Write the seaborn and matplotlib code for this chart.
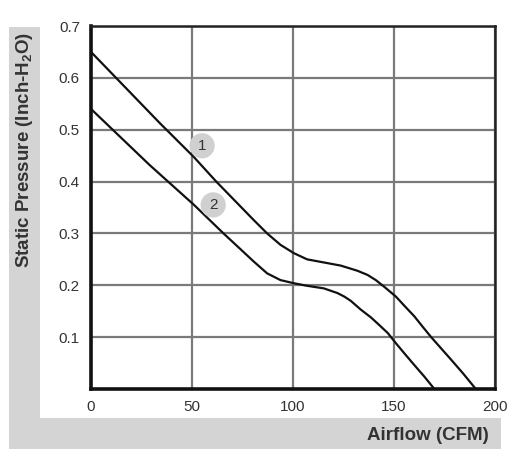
import matplotlib
matplotlib.use("Agg")
import matplotlib.pyplot as plt
import seaborn as sns
import pandas as pd
from matplotlib.patches import Rectangle

# Data
curve1_x = [0, 34, 51, 62, 74, 80.5, 87.2, 93.8, 100.4, 107, 115.3, 123.6, 128.6, 131.9, 136.9, 141, 145.2,
            151, 155.5, 160.1, 164.2, 168.4, 173.4, 178.4, 184.2, 190.5]
curve1_y = [0.65, 0.513, 0.447, 0.400, 0.352, 0.326, 0.300, 0.278, 0.262, 0.250, 0.244, 0.238, 0.232, 0.228, 0.220, 0.210, 0.197,
            0.178, 0.159, 0.140, 0.120, 0.100, 0.078, 0.056, 0.030, 0.0]
curve2_x = [0, 29, 51, 65.6, 73.9, 80.5, 87.2, 93.8, 100.4, 107, 115.3, 122, 125.5, 128.6, 133.6, 138.6, 142.8,
            146.9, 151, 155.5, 160.1, 165, 170]
curve2_y = [0.54, 0.432, 0.355, 0.300, 0.270, 0.246, 0.223, 0.210, 0.204, 0.199, 0.194, 0.185, 0.178, 0.170, 0.153, 0.138, 0.123,
            0.108, 0.088, 0.067, 0.046, 0.024, 0.0]
labels = ["1", "2"]
label_x = [55, 60.5]
label_y = [0.469, 0.355]
x_ticks = [0, 50, 100, 150, 200]
y_ticks = [0.1, 0.2, 0.3, 0.4, 0.5, 0.6, 0.7]

sns.set_theme(style="white")
plt.rcParams['font.family'] = ['Liberation Sans', 'DejaVu Sans']

W, H = 520, 466
fig = plt.figure(figsize=(W / 100, H / 100), dpi=100)
fig.patch.set_facecolor("white")

grey = "#d4d4d4"
# L-shaped grey label strips
fig.patches.append(Rectangle((9 / W, 1 - 449 / H), 31 / W, 422 / H,
                             transform=fig.transFigure, facecolor=grey, edgecolor="none", zorder=0))
fig.patches.append(Rectangle((9 / W, 1 - 449 / H), 492 / W, 31 / H,
                             transform=fig.transFigure, facecolor=grey, edgecolor="none", zorder=0))

ax = fig.add_axes([91 / W, 1 - 389 / H, (495 - 91) / W, (389 - 26) / H])
ax.set_facecolor("white")

df1 = pd.DataFrame({"x": curve1_x, "y": curve1_y})
df2 = pd.DataFrame({"x": curve2_x, "y": curve2_y})
sns.lineplot(data=df1, x="x", y="y", ax=ax, color="#111111", lw=1.6, sort=False, zorder=3)
sns.lineplot(data=df2, x="x", y="y", ax=ax, color="#111111", lw=1.6, sort=False, zorder=3)
for line in ax.get_lines():
    line.set_solid_joinstyle("round")

ax.set_xlim(0, 200)
ax.set_ylim(0, 0.7)
ax.set_xticks(x_ticks)
ax.set_yticks(y_ticks)
ax.set_xticklabels([str(t) for t in x_ticks])
ax.set_yticklabels([f"{t:.1f}" for t in y_ticks])
ax.tick_params(length=0, labelsize=11, labelcolor="#333333", pad=8)
ax.grid(True, color="#7a7a7a", lw=1.6)
ax.set_axisbelow(True)
ax.set_xlabel("")
ax.set_ylabel("")

for s in ["left", "bottom"]:
    ax.spines[s].set_linewidth(2.6)
    ax.spines[s].set_color("#111111")
for s in ["top", "right"]:
    ax.spines[s].set_linewidth(1.8)
    ax.spines[s].set_color("#222222")

for lab, lx, ly in zip(labels, label_x, label_y):
    ax.scatter([lx], [ly], s=330, color="#d0d0d0", edgecolor="none", zorder=4)
    ax.text(lx, ly, lab, ha="center", va="center", fontsize=11, color="#333333", zorder=5)

fig.text(25 / W, 1 - 150 / H, "Static Pressure (Inch-H$_\\mathregular{2}$O)", rotation=90,
         ha="center", va="center", fontsize=13.5, fontweight="bold", color="#333333")
fig.text(489 / W, 1 - 436 / H, "Airflow (CFM)", ha="right", va="center",
         fontsize=13.5, fontweight="bold", color="#333333")

fig.savefig("out.png", dpi=100)
